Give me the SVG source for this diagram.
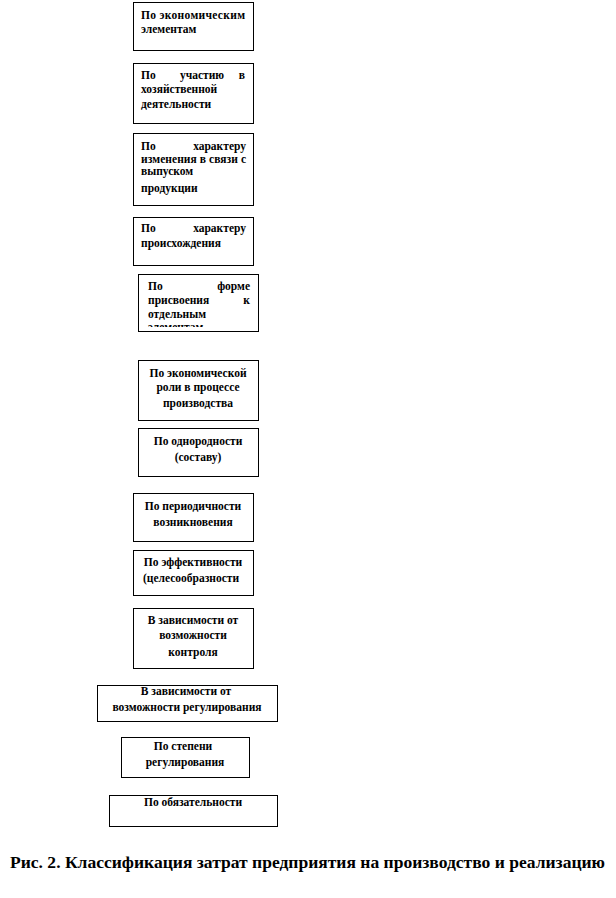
<svg xmlns="http://www.w3.org/2000/svg" width="616" height="898" viewBox="0 0 616 898">
<style>
.box{fill:#fff;stroke:#000;stroke-width:1}
.t{font-family:"Liberation Serif","DejaVu Serif",serif;font-weight:bold;font-size:11.5px;fill:#000}
.c{text-anchor:middle}
.r{text-anchor:end}
.cap{font-family:"Liberation Serif","DejaVu Serif",serif;font-weight:bold;font-size:17px;fill:#000}
</style>
<defs>
<clipPath id="clip5"><rect x="138" y="274" width="120" height="53"/></clipPath>
</defs>
<rect width="616" height="898" fill="#fff"/>
<g id="connectors"></g>
<g id="n1">
<rect class="box" x="133.5" y="2.5" width="120" height="48"/>
<text class="t" x="141" y="19" textLength="104" lengthAdjust="spacing">По экономическим</text>
<text class="t" x="141" y="33">элементам</text>
</g>
<g id="n2">
<rect class="box" x="133.5" y="63.5" width="120" height="60"/>
<text class="t" x="141" y="79">По</text>
<text class="t" x="180" y="79">участию</text>
<text class="t r" x="245" y="79">в</text>
<text class="t" x="141" y="93">хозяйственной</text>
<text class="t" x="141" y="108">деятельности</text>
</g>
<g id="n3">
<rect class="box" x="133.5" y="133.5" width="120" height="72"/>
<text class="t" x="141" y="150">По</text>
<text class="t r" x="246" y="150">характеру</text>
<text class="t" x="141" y="163" textLength="105" lengthAdjust="spacing">изменения в связи с</text>
<text class="t" x="141" y="175">выпуском</text>
<text class="t" x="141" y="192">продукции</text>
</g>
<g id="n4">
<rect class="box" x="133.5" y="217.5" width="120" height="48"/>
<text class="t" x="141" y="232">По</text>
<text class="t r" x="246" y="232">характеру</text>
<text class="t" x="141" y="247">происхождения</text>
</g>
<g id="n5">
<rect class="box" x="138.5" y="274.5" width="120" height="57"/>
<text class="t" x="148" y="290">По</text>
<text class="t r" x="250" y="290">форме</text>
<text class="t" x="148" y="304">присвоения</text>
<text class="t r" x="250" y="304">к</text>
<text class="t" x="148" y="318">отдельным</text>
<text class="t" x="148" y="331" clip-path="url(#clip5)">элементам</text>
</g>
<g id="n6">
<rect class="box" x="138.5" y="360.5" width="120" height="60"/>
<text class="t c" x="198" y="377">По экономической</text>
<text class="t c" x="198" y="391">роли в  процессе</text>
<text class="t c" x="198" y="407">производства</text>
</g>
<g id="n7">
<rect class="box" x="138.5" y="428.5" width="120" height="48"/>
<text class="t c" x="198" y="445">По однородности</text>
<text class="t c" x="198" y="461">(составу)</text>
</g>
<g id="n8">
<rect class="box" x="133.5" y="493.5" width="120" height="48"/>
<text class="t c" x="193" y="510">По периодичности</text>
<text class="t c" x="193" y="526">возникновения</text>
</g>
<g id="n9">
<rect class="box" x="133.5" y="550.5" width="120" height="45"/>
<text class="t c" x="193" y="566">По эффективности</text>
<text class="t c" x="191" y="582">(целесообразности</text>
</g>
<g id="n10">
<rect class="box" x="133.5" y="608.5" width="120" height="60"/>
<text class="t c" x="193" y="624">В зависимости  от</text>
<text class="t c" x="193" y="639">возможности</text>
<text class="t c" x="193" y="656">контроля</text>
</g>
<g id="n11">
<rect class="box" x="97.5" y="685.5" width="180" height="36"/>
<text class="t c" x="186" y="695">В зависимости  от</text>
<text class="t c" x="187" y="711">возможности  регулирования</text>
</g>
<g id="n12">
<rect class="box" x="121.5" y="737.5" width="128" height="40"/>
<text class="t c" x="183" y="750">По степени</text>
<text class="t c" x="185" y="766">регулирования</text>
</g>
<g id="n13">
<rect class="box" x="109.5" y="795.5" width="168" height="31"/>
<text class="t c" x="193" y="806">По обязательности</text>
</g>
<text class="cap" x="10" y="868" textLength="595" lengthAdjust="spacingAndGlyphs">Рис. 2. Классификация затрат предприятия на производство и реализацию</text>
</svg>
